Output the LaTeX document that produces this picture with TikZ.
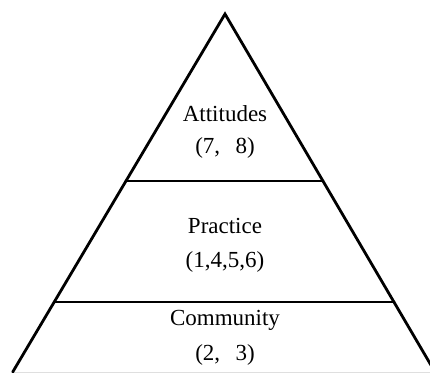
\documentclass[tikz,border=0pt]{standalone}
\usepackage{fontspec}
\setmainfont{Liberation Serif}
\usetikzlibrary{calc}
\begin{document}
\begin{tikzpicture}[x=1pt,y=-1pt,
  edge/.style={line width=2.8pt,line cap=round,line join=miter},
  label/.style={font=\fontsize{23}{27}\selectfont,inner sep=0pt,anchor=center}]
\useasboundingbox (0,0) rectangle (430,372);
\fill[white] (0,0) rectangle (430,372);
\clip (0,0) rectangle (430,372);
% corners of the pyramid
\coordinate (apex) at (225,14);
\coordinate (bl) at (12.7,372);
\coordinate (br) at (435,372);
% ends of the two dividing lines
\coordinate (l1) at ($(apex)!0.4665!(bl)$);
\coordinate (r1) at ($(apex)!0.4665!(br)$);
\coordinate (l2) at ($(apex)!0.8045!(bl)$);
\coordinate (r2) at ($(apex)!0.8045!(br)$);
% faint base line
\draw[gray!25,line width=1pt] (bl) -- (br);
% outline and levels
\draw[edge] (bl) -- (apex) -- (br);
\draw[edge] (l1) -- (r1);
\draw[edge] (l2) -- (r2);
% level labels
\node[label] (att) at (225,114) {Attitudes};
\node[label] (attn) at (225,148) {(7,\ \ \,8)};
\node[label] (pra) at (225,226) {Practice};
\node[label] (pran) at (225,262) {(1,4,5,6)};
\node[label] (com) at (225,320) {Community};
\node[label] (comn) at (225,355) {(2,\ \ \,3)};
\end{tikzpicture}
\end{document}
